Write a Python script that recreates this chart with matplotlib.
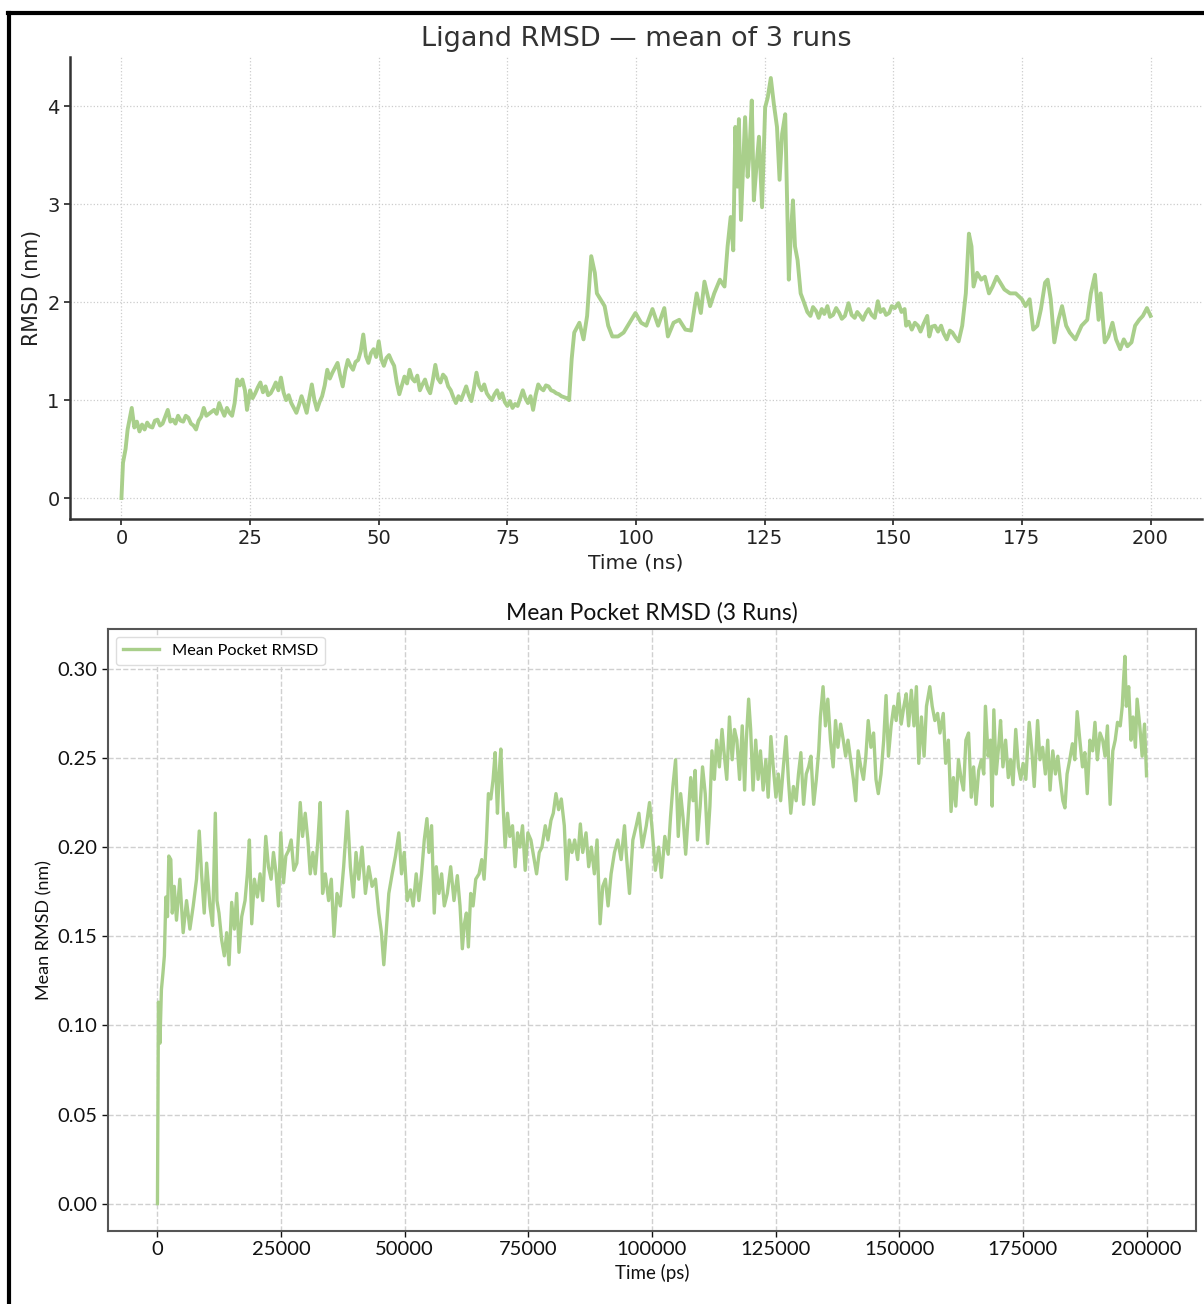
import matplotlib.pyplot as plt
from matplotlib.lines import Line2D

# Ligand RMSD averaged over 3 runs (time in ns, RMSD in nm)
ligand_time_ns = [
    0, 0.3, 0.8, 1.2, 2, 2.5, 3, 3.5, 4, 4.5, 5, 5.5, 6, 6.5, 7, 7.5, 8, 8.5, 9,
    9.5, 10, 10.5, 11, 11.5, 12, 12.5, 13, 13.5, 14, 14.5, 15, 15.5, 16, 16.5,
    17, 17.5, 18, 18.5, 19, 19.5, 20, 20.5, 21, 21.5, 22, 22.5, 23, 23.5, 24,
    24.4, 25, 25.5, 26, 26.5, 27, 27.5, 28, 28.5, 29, 29.5, 30, 30.5, 31, 31.5,
    32, 32.5, 33, 33.5, 34, 34.5, 35, 35.5, 36, 36.5, 37, 37.5, 38, 38.5, 39,
    39.5, 40, 40.5, 41, 41.5, 42, 42.5, 43, 43.5, 44, 44.5, 45, 45.5, 46, 46.5,
    47, 47.5, 48, 48.5, 49, 49.5, 50, 50.5, 51, 51.5, 52, 52.5, 53, 53.5, 54,
    54.5, 55, 55.5, 56, 56.5, 57, 57.5, 58, 58.5, 59, 59.5, 60, 60.5, 61, 61.5,
    62, 62.5, 63, 63.5, 64, 64.5, 65, 65.5, 66, 66.5, 67, 67.5, 68, 68.5, 69,
    69.5, 70, 70.5, 71, 71.5, 72, 72.5, 73, 73.5, 74, 74.5, 75, 75.5, 76, 76.5,
    77, 77.5, 78, 78.5, 79, 79.5, 80, 80.5, 81, 81.5, 82, 82.5, 83, 83.5, 84,
    84.5, 85, 85.5, 86, 86.5, 87,
    87.5, 88, 89, 89.8, 90.5, 91.3, 92, 92.4, 93.1, 93.9, 94.6, 95.4, 96.5, 97.6,
    99.1, 99.9, 101, 102, 103.2, 104.3, 105.5, 106.2, 107.3, 108.4, 109.6, 110.7,
    111.8, 112.6, 113.3, 114.4, 115.2, 116.3, 117.2, 117.8, 118.4, 118.9, 119.3,
    119.7, 120.0, 120.4, 121.2, 121.7, 122.0, 122.5, 122.9, 123.4, 123.9, 124.5,
    125.1, 125.6, 126.2, 126.8, 127.4, 127.9, 128.4, 129.0, 129.4, 129.7, 130.1,
    130.5, 130.9, 131.4,
    132.0, 132.7, 133.3, 133.9, 134.4, 135, 135.5, 136.1, 136.6, 137.2, 137.7,
    138.3, 138.9, 139.5, 140.0, 140.6, 141.3, 141.9, 142.5, 143.0, 143.6, 144.1,
    144.7, 145.2, 145.8, 146.4, 147, 147.5, 148.1, 148.6, 149.2, 149.7, 150.3,
    151, 151.6, 152.2, 152.5, 153.0, 153.6, 154.2, 154.8, 155.3, 155.9, 156.6,
    157, 157.5, 158.1, 158.7, 159.3, 159.8, 160.4, 161.0, 161.5, 162.1, 162.7,
    163.4, 164.1, 164.7, 165.2, 165.6, 166.3, 167.1, 167.8, 168.6, 169.3,
    170.1, 170.8, 171.6, 172.7, 173.8, 175, 175.7, 176.5, 177.2, 178, 178.7,
    179.5, 180, 180.6, 181.3, 182.1, 182.8, 183.6, 184.3, 185.4, 186.6, 187.7,
    188.4, 189.2, 189.9, 190.3, 191.1, 191.8, 192.6, 193.3, 194.1, 194.8, 195.5,
    196.3, 197, 197.8, 198.5, 199.3, 200,
]
ligand_rmsd_nm = [
    0.00, 0.36, 0.50, 0.70, 0.92, 0.72, 0.78, 0.68, 0.75, 0.70, 0.77, 0.73,
    0.72, 0.79, 0.80, 0.74, 0.76, 0.83, 0.90, 0.78, 0.80, 0.76, 0.84, 0.79,
    0.78, 0.84, 0.82, 0.76, 0.74, 0.70, 0.79, 0.83, 0.92, 0.84, 0.86, 0.88,
    0.90, 0.86, 0.97, 0.90, 0.84, 0.92, 0.87, 0.84, 0.97, 1.21, 1.15, 1.21,
    1.10, 0.90, 1.10, 1.02, 1.07, 1.13, 1.18, 1.08, 1.14, 1.05, 1.07, 1.12,
    1.18, 1.10, 1.23, 1.08, 1.00, 1.05, 0.97, 0.92, 0.87, 0.95, 1.04, 0.96,
    0.87, 1.02, 1.16, 1.00, 0.90, 0.98, 1.04, 1.15, 1.31, 1.22, 1.28, 1.33,
    1.38, 1.25, 1.14, 1.30, 1.41, 1.35, 1.31, 1.39, 1.41, 1.50, 1.67, 1.45,
    1.38, 1.48, 1.52, 1.44, 1.60, 1.42, 1.35, 1.43, 1.46, 1.40, 1.35, 1.18,
    1.06, 1.15, 1.24, 1.17, 1.31, 1.22, 1.19, 1.25, 1.10, 1.16, 1.21, 1.12,
    1.07, 1.20, 1.36, 1.22, 1.18, 1.26, 1.23, 1.14, 1.10, 1.03, 0.97, 1.04,
    1.00, 1.07, 1.14, 1.05, 0.99, 1.12, 1.28, 1.15, 1.10, 1.16, 1.07, 1.03,
    1.00, 1.06, 1.10, 1.02, 1.07, 0.98, 0.94, 0.99, 0.92, 0.96, 0.94, 1.02,
    1.10, 1.02, 0.97, 1.04, 0.90, 1.05, 1.16, 1.12, 1.10, 1.15, 1.14, 1.10,
    1.09, 1.07, 1.06, 1.04, 1.03, 1.02, 1.00,
    1.42, 1.69, 1.79, 1.62, 1.86, 2.47, 2.30, 2.09, 2.03, 1.96, 1.76, 1.65,
    1.65, 1.69, 1.82, 1.89, 1.79, 1.76, 1.93, 1.76, 1.94, 1.65, 1.79, 1.82,
    1.72, 1.71, 2.09, 1.89, 2.21, 1.96, 2.09, 2.23, 2.16, 2.57, 2.87, 2.53,
    3.79, 3.18, 3.87, 2.84, 3.89, 3.28, 3.48, 4.06, 3.04, 3.38, 3.69, 2.97,
    3.99, 4.09, 4.29, 4.02, 3.79, 3.25, 3.72, 3.92, 2.97, 2.23, 2.70, 3.04,
    2.57, 2.43,
    2.09, 1.99, 1.90, 1.86, 1.95, 1.91, 1.84, 1.93, 1.88, 1.96, 1.85, 1.87,
    1.94, 1.89, 1.83, 1.86, 1.99, 1.87, 1.84, 1.90, 1.86, 1.82, 1.89, 1.93,
    1.87, 1.84, 2.01, 1.90, 1.93, 1.87, 1.89, 1.96, 1.94, 1.99, 1.90, 1.93,
    1.76, 1.80, 1.72, 1.79, 1.76, 1.70, 1.78, 1.86, 1.65, 1.75, 1.76, 1.70,
    1.76, 1.68, 1.62, 1.71, 1.69, 1.64, 1.60, 1.76, 2.09, 2.70, 2.57, 2.16,
    2.30, 2.23, 2.26, 2.09, 2.16, 2.26, 2.20, 2.13, 2.09, 2.09, 2.03, 1.96,
    2.03, 1.72, 1.76, 1.93, 2.20, 2.23, 2.03, 1.59, 1.82, 1.96, 1.76, 1.69,
    1.62, 1.76, 1.82, 2.09, 2.28, 1.82, 2.09, 1.59, 1.65, 1.79, 1.62, 1.52,
    1.62, 1.55, 1.59, 1.76, 1.82, 1.86, 1.94, 1.86,
]

# Mean pocket RMSD over 3 runs (time in ps, RMSD in nm)
pocket_time_ps = [
    0, 200, 500, 800, 1100, 1400, 1700, 2030, 2300, 2700, 3000, 3400, 3850, 4530,
    5200, 5880, 6560, 7230, 7900, 8450, 8920, 9460, 9940, 10610, 11150, 11700,
    12030, 12440, 12980, 13520, 13990, 14470, 15010, 15550, 16020, 16490, 17040,
    17710, 18180, 18590, 19060, 19600, 20210, 20750, 21290, 21900, 22440, 22980,
    23460, 24000, 24470, 24940, 25490, 25960, 26500, 27040, 27580, 28190, 28870,
    29340, 29880, 30420, 30890, 31430, 31910, 32450, 32920, 33390, 33940, 34610,
    35150, 35700, 36300, 36980, 37650, 38400, 39010, 39610, 40150, 40700, 41370,
    42050, 42720, 43400, 44080, 44750, 45290, 45770, 46240, 46780, 47460, 48130,
    48810, 49350, 49890, 50500, 51170, 51710, 52320, 52860, 53400, 53950, 54490,
    54890, 55430, 55970, 56380, 56920, 57460, 58000, 58610, 59290, 59960, 60640,
    61180, 61650, 62060, 62470, 62870, 63340, 63820, 64360, 65030, 65570, 66050,
    66520, 66920, 67400, 67870, 68280, 68750, 69090, 69430, 69900, 70300, 70780,
    71250, 71790, 72330, 72810, 73280, 73820, 74360, 74900, 75510, 76180, 76660,
    77200, 77740, 78420, 78960, 79570, 80040, 80580, 81120, 81660, 82270, 82740,
    83280, 83820, 84360, 84970, 85510, 85990, 86660, 87200, 87740, 88350, 88890,
    89500, 90040, 90580, 91120, 91730, 92410, 93080, 93760, 94440, 94780, 95450,
    96130, 96810, 97350, 98030, 98840, 99500, 100000, 100680, 101360, 101910,
    102590, 103270, 103750, 104220, 104770, 105310, 105790, 106330, 106810,
    107350, 107830, 108310, 108720, 109190, 109740, 110220, 110760, 111240,
    111710, 112120, 112600, 113080, 113620, 114160, 114640, 115120, 115660,
    116210, 116680, 117160, 117710, 118250, 118730, 119070, 119540, 119950,
    120430, 120970, 121450, 121930, 122470, 123020, 123490, 124040, 124520,
    125060, 125540, 126010, 126560, 127100, 127580, 128060, 128600, 129150,
    129620, 130100, 130650, 131190, 131670, 132140, 132690, 133230, 133710,
    134050, 134590, 135070, 135550, 136090, 136630, 137110, 137590, 138140,
    138680, 139160, 139630, 140180, 140720, 141200, 141680, 142220, 142760,
    143240, 143720, 144270, 144810, 145290, 145760, 146310, 146850, 147330,
    147810, 148350, 148890, 149370, 149850, 150390, 150930, 151410, 151890,
    152440, 152980, 153460, 153940, 154480, 155020, 155500, 156180, 156660,
    157200, 157750, 158220, 158900, 159380, 159930, 160470, 160950, 161430,
    161970, 162520, 162990, 163470, 164010, 164560, 165030, 165510, 166060,
    166600, 167080, 167420, 167970, 168440, 168780, 169120, 169600, 170140,
    170480, 170960, 171500, 172050, 172520, 173000, 173550, 174090, 174570,
    175040, 175590, 176270, 176810, 177290, 177970, 178450, 178990, 179540,
    180020, 180490, 181040, 181580, 182060, 182540, 183080, 183490, 183930,
    184470, 185010, 185490, 185970, 186510, 187050, 187530, 188010, 188550,
    189100, 189570, 190050, 190590, 191130, 191610, 192090, 192640, 193180,
    193660, 194130, 194680, 195090, 195360, 195630, 195910, 196390, 196860,
    197270, 197750, 198090, 198630, 199110, 199590, 200000,
]
pocket_rmsd_nm = [
    0.000, 0.113, 0.090, 0.120, 0.129, 0.139, 0.172, 0.161, 0.195, 0.193, 0.163,
    0.178, 0.159, 0.182, 0.152, 0.170, 0.154, 0.167, 0.182, 0.209, 0.185, 0.163,
    0.191, 0.167, 0.156, 0.219, 0.170, 0.163, 0.148, 0.139, 0.152, 0.134, 0.169,
    0.154, 0.174, 0.141, 0.161, 0.170, 0.185, 0.204, 0.157, 0.182, 0.172, 0.185,
    0.170, 0.206, 0.189, 0.182, 0.197, 0.185, 0.167, 0.208, 0.180, 0.195, 0.198,
    0.204, 0.187, 0.191, 0.225, 0.206, 0.219, 0.204, 0.185, 0.197, 0.185, 0.204,
    0.225, 0.174, 0.185, 0.170, 0.182, 0.150, 0.174, 0.167, 0.189, 0.220, 0.189,
    0.172, 0.197, 0.182, 0.200, 0.174, 0.189, 0.178, 0.182, 0.163, 0.152, 0.134,
    0.152, 0.174, 0.185, 0.195, 0.208, 0.185, 0.197, 0.170, 0.176, 0.167, 0.185,
    0.170, 0.185, 0.204, 0.216, 0.197, 0.212, 0.163, 0.189, 0.174, 0.185, 0.167,
    0.174, 0.189, 0.170, 0.184, 0.167, 0.143, 0.157, 0.163, 0.144, 0.174, 0.167,
    0.182, 0.185, 0.193, 0.182, 0.204, 0.230, 0.227, 0.238, 0.253, 0.219, 0.241,
    0.255, 0.223, 0.200, 0.219, 0.206, 0.212, 0.189, 0.208, 0.200, 0.212, 0.187,
    0.208, 0.204, 0.193, 0.185, 0.197, 0.200, 0.212, 0.204, 0.215, 0.219, 0.230,
    0.221, 0.227, 0.212, 0.182, 0.204, 0.197, 0.204, 0.193, 0.213, 0.197, 0.208,
    0.189, 0.200, 0.185, 0.204, 0.157, 0.178, 0.182, 0.167, 0.185, 0.197, 0.204,
    0.193, 0.212, 0.197, 0.174, 0.204, 0.212, 0.219, 0.200, 0.212, 0.225, 0.211,
    0.187, 0.200, 0.183, 0.206, 0.196, 0.217, 0.234, 0.249, 0.206, 0.230, 0.215,
    0.196, 0.219, 0.239, 0.226, 0.243, 0.204, 0.223, 0.245, 0.230, 0.202, 0.223,
    0.254, 0.238, 0.260, 0.245, 0.266, 0.251, 0.238, 0.273, 0.249, 0.266, 0.260,
    0.238, 0.268, 0.232, 0.260, 0.283, 0.266, 0.232, 0.260, 0.238, 0.254, 0.232,
    0.249, 0.228, 0.262, 0.245, 0.228, 0.241, 0.226, 0.245, 0.262, 0.238, 0.219,
    0.234, 0.226, 0.241, 0.253, 0.224, 0.241, 0.245, 0.251, 0.224, 0.238, 0.254,
    0.273, 0.290, 0.268, 0.283, 0.260, 0.245, 0.271, 0.256, 0.269, 0.260, 0.251,
    0.260, 0.249, 0.238, 0.226, 0.254, 0.245, 0.238, 0.251, 0.271, 0.256, 0.264,
    0.238, 0.230, 0.241, 0.260, 0.285, 0.251, 0.268, 0.279, 0.271, 0.286, 0.269,
    0.279, 0.286, 0.268, 0.288, 0.268, 0.290, 0.247, 0.273, 0.251, 0.279, 0.290,
    0.279, 0.271, 0.275, 0.264, 0.275, 0.247, 0.260, 0.220, 0.239, 0.223, 0.249,
    0.238, 0.232, 0.260, 0.264, 0.228, 0.245, 0.224, 0.243, 0.249, 0.241, 0.279,
    0.251, 0.260, 0.223, 0.277, 0.241, 0.258, 0.271, 0.245, 0.260, 0.239, 0.249,
    0.235, 0.266, 0.245, 0.238, 0.247, 0.238, 0.270, 0.254, 0.234, 0.271, 0.249,
    0.256, 0.241, 0.260, 0.232, 0.254, 0.241, 0.251, 0.238, 0.226, 0.222, 0.241,
    0.249, 0.258, 0.249, 0.276, 0.260, 0.245, 0.253, 0.230, 0.260, 0.254, 0.270,
    0.249, 0.264, 0.260, 0.251, 0.268, 0.224, 0.254, 0.260, 0.270, 0.268, 0.279,
    0.294, 0.307, 0.279, 0.290, 0.260, 0.273, 0.256, 0.283, 0.268, 0.251, 0.269,
    0.240,
]

LINE_GREEN = "#a9cf8b"

fig = plt.figure(figsize=(12.04, 13.04), dpi=100)

# --- upper panel: ligand RMSD ---
ax1 = fig.add_axes([70 / 1204, 785 / 1304, 1132 / 1204, 462 / 1304])
ax1.plot(ligand_time_ns, ligand_rmsd_nm, color=LINE_GREEN, lw=2.8)
ax1.set_title("Ligand RMSD — mean of 3 runs", fontsize=19.5, color="#333333",
              family="DejaVu Sans", pad=8)
ax1.set_xlabel("Time (ns)", fontsize=14.6, color="#222222", family="DejaVu Sans")
ax1.set_ylabel("RMSD (nm)", fontsize=14.8, color="#222222", family="DejaVu Sans")
ax1.set_xticks([0, 25, 50, 75, 100, 125, 150, 175, 200])
ax1.set_yticks([0, 1, 2, 3, 4])
ax1.tick_params(labelsize=14, colors="#222222", length=4, width=1.2)
for lbl in ax1.get_xticklabels() + ax1.get_yticklabels():
    lbl.set_family("DejaVu Sans")
ax1.grid(True, linestyle=":", color="#cccccc", lw=0.9)
ax1.spines["top"].set_visible(False)
ax1.spines["right"].set_visible(False)
for s in ("left", "bottom"):
    ax1.spines[s].set_color("#333333")
    ax1.spines[s].set_linewidth(1.8)

# --- lower panel: mean pocket RMSD ---
sans = ["Lato", "DejaVu Sans"]
ax2 = fig.add_axes([108 / 1204, 73 / 1304, 1088 / 1204, 602 / 1304])
ax2.plot(pocket_time_ps, pocket_rmsd_nm, color=LINE_GREEN, lw=2.4,
         label="Mean Pocket RMSD")
ax2.set_title("Mean Pocket RMSD (3 Runs)", fontsize=16.5, color="#111111",
              family=sans, pad=7)
ax2.set_xlabel("Time (ps)", fontsize=13.5, color="#111111", family=sans)
ax2.set_ylabel("Mean RMSD (nm)", fontsize=13, color="#111111", family=sans)
ax2.set_xticks([0, 25000, 50000, 75000, 100000, 125000, 150000, 175000, 200000])
ax2.set_yticks([0.00, 0.05, 0.10, 0.15, 0.20, 0.25, 0.30])
ax2.set_yticklabels(["0.00", "0.05", "0.10", "0.15", "0.20", "0.25", "0.30"])
ax2.tick_params(labelsize=14.5, colors="#111111", length=4, width=1.0)
for lbl in ax2.get_xticklabels() + ax2.get_yticklabels():
    lbl.set_family(sans)
ax2.grid(True, linestyle="--", color="#d0d0d0", lw=1.0)
for s in ax2.spines.values():
    s.set_color("#555555")
    s.set_linewidth(1.5)
leg = ax2.legend(loc="upper left", prop={"family": sans, "size": 11.8},
                 handlelength=2.2, framealpha=1.0, edgecolor="#dddddd")

# frame lines along the top and left edges
fig.add_artist(Line2D([8 / 1204, 1.0], [1 - 13 / 1304, 1 - 13 / 1304],
                      color="black", lw=3, transform=fig.transFigure))
fig.add_artist(Line2D([9 / 1204, 9 / 1204], [0.0, 1 - 13 / 1304],
                      color="black", lw=3, transform=fig.transFigure))

fig.savefig("out.png", dpi=100)
plt.close(fig)
